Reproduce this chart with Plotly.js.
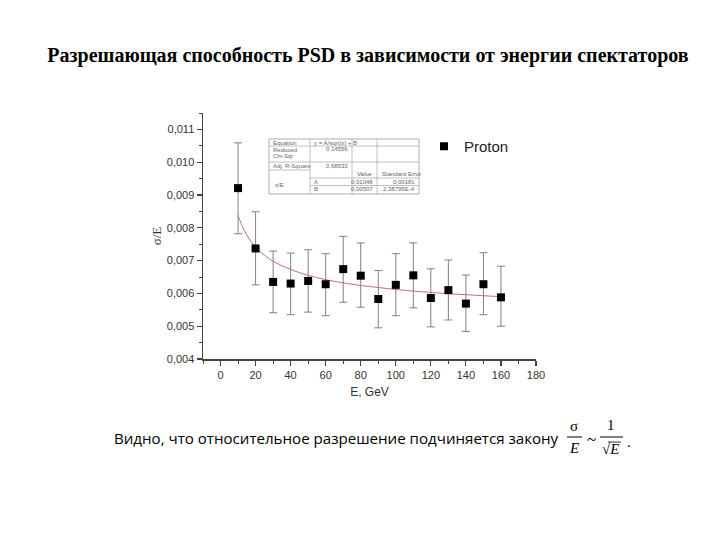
<!DOCTYPE html>
<html>
<head>
<meta charset="utf-8">
<script src="https://cdn.plot.ly/plotly-3.0.1.min.js"></script>
<style>html,body{margin:0;padding:0;background:#fff;}#chart{width:720px;height:540px;}</style>
</head>
<body>
<div id="chart"></div>
<script>
// ---- data ----
var energy = [10, 20, 30, 40, 50, 60, 70, 80, 90, 100, 110, 120, 130, 140, 150, 160];
var sigmaOverE = [0.00921, 0.00737, 0.00635, 0.00630, 0.00638, 0.00628, 0.00674, 0.00654, 0.00583, 0.00626, 0.00655, 0.00586, 0.00610, 0.00569, 0.00628, 0.00588];
var errPlus  = [0.00138, 0.00112, 0.00094, 0.00093, 0.00095, 0.00093, 0.00100, 0.00100, 0.00087, 0.00095, 0.00099, 0.00089, 0.00092, 0.00087, 0.00096, 0.00095];
var errMinus = [0.00139, 0.00111, 0.00094, 0.00095, 0.00095, 0.00096, 0.00101, 0.00096, 0.00088, 0.00094, 0.00099, 0.00088, 0.00091, 0.00085, 0.00093, 0.00088];
var fitE = [10, 12, 15, 20, 25, 30, 40, 50, 60, 70, 80, 90, 100, 110, 120, 130, 140, 150, 160];
var fitY = [0.00838, 0.00810, 0.00778, 0.00741, 0.00717, 0.00698, 0.00673, 0.00655, 0.00642, 0.00632, 0.00624, 0.00618, 0.00612, 0.00607, 0.00603, 0.00599, 0.00596, 0.00593, 0.00590];
var xTicks = [0, 20, 40, 60, 80, 100, 120, 140, 160, 180];
var yTicks = [0.004, 0.005, 0.006, 0.007, 0.008, 0.009, 0.010, 0.011];
var seriesName = "Proton";
var tableRows = [
  ["Equation", "y = A/sqrt(x) + B"],
  ["Reduced Chi-Sqr", "0,14556"],
  ["Adj. R-Square", "0,68533"]
];
var tableParams = [["A", "0,01048", "0,00181"], ["B", "0,00507", "2,38795E-4"]];

// ---- pixel helpers (plot area: x 203..536, y 113..359) ----
var L = 203, R = 536, T = 113, B = 359;
function X(px) { return (px - L) / (R - L); }
function Y(py) { return (B - py) / (B - T); }

var ann = [];
var shapes = [];
var small = {family: "Liberation Sans, Arial, sans-serif", size: 6, color: "#666"};
function txt(px, py, s, anchor, font) {
  ann.push({xref: "paper", yref: "paper", x: X(px), y: Y(py), text: s, showarrow: false,
    xanchor: anchor || "left", yanchor: "middle", font: font || small});
}
function line(x0, y0, x1, y1, color, w) {
  shapes.push({type: "line", xref: "paper", yref: "paper", x0: X(x0), y0: Y(y0), x1: X(x1), y1: Y(y1),
    line: {color: color || "#aaa", width: w || 0.8}});
}

// stats table
var tc = "#b0b0b0";
shapes.push({type: "rect", xref: "paper", yref: "paper", x0: X(269), y0: Y(139), x1: X(419), y1: Y(194),
  line: {color: "#999", width: 0.8}, fillcolor: "#fff"});
line(269, 146, 419, 146, tc);
line(269, 162, 419, 162, tc);
line(310, 178, 419, 178, tc);
line(310, 185.5, 419, 185.5, tc);
line(269, 170, 310, 170, tc);
line(310, 139, 310, 194, tc);
line(352, 139, 352, 194, tc);
line(377, 139, 377, 194, tc);
txt(271, 142.5, tableRows[0][0]);
txt(312, 142.5, tableRows[0][1]);
txt(271, 150, "Reduced");
txt(271, 156, "Chi-Sqr");
txt(350, 149, tableRows[1][1], "right");
txt(271, 166, tableRows[2][0]);
txt(350, 166, tableRows[2][1], "right");
txt(355, 174, "Value");
txt(380, 174, "Standard Error");
txt(273, 185, "s/E");
for (var i = 0; i < tableParams.length; i++) {
  var yy = i === 0 ? 181.7 : 189;
  txt(312, yy, tableParams[i][0]);
  txt(375, yy, tableParams[i][1], "right");
  txt(417, yy, tableParams[i][2], "right");
}

// bottom sentence with formula
txt(112, 438, "Видно, что относительное разрешение подчиняется закону", "left",
  {family: "Open Sans, Noto Sans, sans-serif", size: 15.1, color: "#000"});
var serif = {family: "Liberation Serif, Times New Roman, serif", size: 15, color: "#000"};
txt(574, 426, "σ", "center", serif);
line(567, 437, 582, 437, "#000", 1);
txt(574, 448, "<i>E</i>", "center", serif);
txt(591, 439, "~", "center", {family: "Liberation Serif, serif", size: 17, color: "#000"});
txt(611, 425, "1", "center", serif);
line(600, 437, 623, 437, "#000", 1);
txt(610, 449, "√<i>E</i>", "center", serif);
line(608, 442, 621, 442, "#000", 0.8);
txt(629, 442, ".", "center", serif);

var traces = [
  {
    x: fitE, y: fitY, mode: "lines", type: "scatter", line: {color: "#c87070", width: 1, shape: "spline"},
    showlegend: false, hoverinfo: "skip"
  },
  {
    x: energy, y: sigmaOverE, mode: "markers", type: "scatter", name: seriesName,
    marker: {symbol: "square", color: "#000", size: 8},
    error_y: {type: "data", symmetric: false, array: errPlus, arrayminus: errMinus, color: "#808080", thickness: 1, width: 4}
  }
];

var layout = {
  width: 720, height: 540,
  paper_bgcolor: "#fff", plot_bgcolor: "#fff",
  margin: {l: L, r: 720 - R, t: T, b: 540 - B, pad: 0},
  separators: ", ",
  title: {
    text: "<b>Разрешающая способность PSD в зависимости от энергии спектаторов</b>",
    font: {family: "Liberation Serif, Times New Roman, serif", size: 20, color: "#000"},
    xref: "container", yref: "container", x: 0.511, xanchor: "center", y: 1 - 55 / 540, yanchor: "middle"
  },
  xaxis: {
    range: [-10, 180], tickvals: xTicks, ticktext: xTicks.map(String),
    showgrid: false, zeroline: false, showline: true, linecolor: "#444", linewidth: 1.5,
    ticks: "outside", ticklen: 5, tickwidth: 1.2, tickcolor: "#444",
    minor: {dtick: 10, tick0: 0, ticks: "outside", ticklen: 3, tickwidth: 1, tickcolor: "#444"},
    tickfont: {family: "Liberation Sans, Arial, sans-serif", size: 11, color: "#333"},
    title: {text: "E, GeV", font: {family: "Liberation Sans, Arial, sans-serif", size: 12, color: "#333"}, standoff: 8}
  },
  yaxis: {
    range: [0.004, 0.0115], tickvals: yTicks, tickformat: ".3f",
    showgrid: false, zeroline: false, showline: true, linecolor: "#444", linewidth: 1.5,
    ticks: "outside", ticklen: 5, tickwidth: 1.2, tickcolor: "#444",
    minor: {dtick: 0.0005, tick0: 0.004, ticks: "outside", ticklen: 3, tickwidth: 1, tickcolor: "#444"},
    tickfont: {family: "Liberation Sans, Arial, sans-serif", size: 11, color: "#333"},
    title: {text: "σ/E", font: {family: "Liberation Serif, serif", size: 13, color: "#333"}, standoff: 2}
  },
  legend: {
    x: X(424), y: Y(130), xanchor: "left", yanchor: "top", bgcolor: "rgba(0,0,0,0)",
    font: {family: "Liberation Sans, Arial, sans-serif", size: 15, color: "#222"}
  },
  showlegend: true,
  annotations: ann,
  shapes: shapes
};

Plotly.newPlot("chart", traces, layout, {displayModeBar: false, staticPlot: true});
</script>
</body>
</html>
